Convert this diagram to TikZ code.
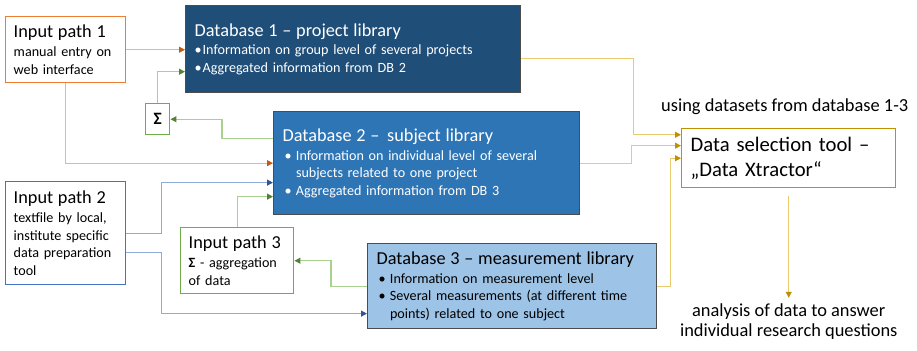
\documentclass[tikz,border=0pt]{standalone}
\usepackage{fontspec}
\setmainfont{Carlito}
\usetikzlibrary{arrows.meta,positioning,calc}

\definecolor{dbdark}{HTML}{1F4E79}
\definecolor{dbmid}{HTML}{2E75B6}
\definecolor{dblight}{HTML}{9DC3E6}
\definecolor{inorange}{HTML}{ED7D31}
\definecolor{inblue}{HTML}{4472C4}
\definecolor{ingreen}{HTML}{70AD47}
\definecolor{toolgold}{HTML}{BF9000}
\definecolor{lineorange}{HTML}{F4B183}
\definecolor{tiporange}{HTML}{C55A11}
\definecolor{lineblue}{HTML}{8FAADC}
\definecolor{tipblue}{HTML}{2F5597}
\definecolor{linegreen}{HTML}{A9D18E}
\definecolor{tipgreen}{HTML}{548235}
\definecolor{linegold}{HTML}{EACB6E}

\newcommand{\headfont}{\fontsize{13.7}{16.5}\selectfont}
\newcommand{\tightbullet}{\makebox[6pt][l]{\textbullet}}
\newcommand{\dbbullet}{\hspace*{1.5pt}\makebox[8.5pt][l]{\textbullet}}
\newcommand{\dbcont}{\hspace*{10pt}}

\begin{document}
\begin{tikzpicture}[
  x=0.75pt, y=-0.75pt,
  font=\fontsize{10.6}{13.2}\selectfont,
  inputpath/.style={
    draw,
    fill=white,
    line width=1.1pt,
    anchor=north west,
    align=left,
    inner xsep=6pt,
    inner ysep=2pt,
    text width=78pt
  },
  database/.style={
    draw=black!70,
    line width=1pt,
    anchor=north west,
    align=left,
    inner xsep=6.75pt,
    inner ysep=2pt
  },
  sumbox/.style={
    draw=ingreen,
    fill=white,
    line width=1.1pt,
    anchor=north west,
    inner sep=0pt,
    minimum width=18pt,
    minimum height=23.25pt,
    font=\fontsize{13}{15}\selectfont\bfseries
  },
  selector/.style={
    draw=toolgold,
    line width=1.1pt,
    anchor=north west,
    align=left,
    inner xsep=6.75pt,
    text width=147pt,
    minimum height=44.25pt,
    font=\fontsize{15.5}{19}\selectfont
  },
  remark/.style={inner sep=0pt, align=center, font=\fontsize{13.8}{15.5}\selectfont},
  orangeflow/.style={draw=lineorange, line width=.8pt, -{Triangle[length=4.5pt,width=4.5pt,color=tiporange]}},
  blueflow/.style={draw=lineblue, line width=.8pt, -{Triangle[length=4.5pt,width=4.5pt,color=tipblue]}},
  greenflow/.style={draw=linegreen, line width=.8pt, -{Triangle[length=4.5pt,width=4.5pt,color=tipgreen]}},
  goldflow/.style={draw=linegold, line width=.8pt, -{Triangle[length=4.5pt,width=4.5pt,color=toolgold]}}
]
\useasboundingbox (0,0) rectangle (917,350);

% input paths
\node[inputpath, draw=inorange, minimum height=49.5pt] (input1) at (5,16)
  {{\headfont Input path 1}\\[1pt]
   manual entry on\\
   web interface};
\node[inputpath, draw=inblue, minimum height=77.25pt] (input2) at (5,181)
  {{\headfont Input path 2}\\[1pt]
   textfile by local,\\
   institute specific\\
   data preparation\\
   tool};
\node[inputpath, draw=ingreen, text width=72.75pt, minimum height=49.5pt] (input3) at (180,227)
  {{\headfont Input path 3}\\[1pt]
   \textbf{Σ} - aggregation\\
   of data};
\node[sumbox] (sum) at (145,103) {Σ};

% databases
\node[database, fill=dbdark, text=white, text width=237.75pt, minimum height=65.25pt] (db1) at (185,5)
  {{\headfont Database 1 – project library}\\[1pt]
   \tightbullet Information on group level of several projects\\
   \tightbullet Aggregated information from DB 2};
\node[database, fill=dbmid, text=white, text width=216pt, minimum height=77.25pt] (db2) at (273,111)
  {{\headfont Database 2 – \,subject library}\\[1pt]
   \dbbullet Information on individual level of several\\
   \dbcont subjects related to one project\\
   \dbbullet Aggregated information from DB 3};
\node[database, fill=dblight, text=black, text width=203.25pt, minimum height=63.75pt] (db3) at (367,243)
  {{\headfont Database 3 – measurement library}\\[1pt]
   \dbbullet Information on measurement level\\
   \dbbullet Several measurements (at different time\\
   \dbcont points) related to one subject};

% data selection
\node[selector] (dst) at (681,128)
  {Data selection tool –\\
   „Data Xtractor“};
\node[remark, above=10pt of dst, xshift=-3pt] (using) {using datasets from database 1-3};
\node[remark, below=86pt of dst] (analysis)
  {analysis of data to answer\\individual research questions};

% connections
\draw[orangeflow] (input1.east) -- (input1.east -| db1.west);
\draw[orangeflow] (input1.south) |- (db2.west);
\draw[greenflow] (sum.north) |- ([yshift=-16.9pt]db1.west);
\draw[greenflow] ([yshift=18.4pt]db2.west) -- ++(-51,0) |- (sum.east);
\draw[blueflow] (input2.east) -- ++(35,0) |- ([yshift=-14.6pt]db2.west);
\draw[blueflow] ([yshift=-14.6pt]input2.east) -- ++(35,0) |- ([yshift=-20.6pt]db3.west);
\draw[greenflow] (input3.north) |- ([yshift=-25.1pt]db2.west);
\draw[greenflow] (db3.west) -- ++(-36,0) |- (input3.east);
\draw[goldflow] ([yshift=-7.1pt]db1.east) -- ++(112,0) |- ([yshift=17.6pt]dst.west);
\draw[goldflow] (db2.east) -- ++(51,0) |- ([yshift=9.4pt]dst.west);
\draw[goldflow] (db3.east) -- ++(13,0) |- (dst.west);
\draw[goldflow, shorten <=6pt, shorten >=4pt] (dst.south) -- (analysis.north);
\end{tikzpicture}
\end{document}
